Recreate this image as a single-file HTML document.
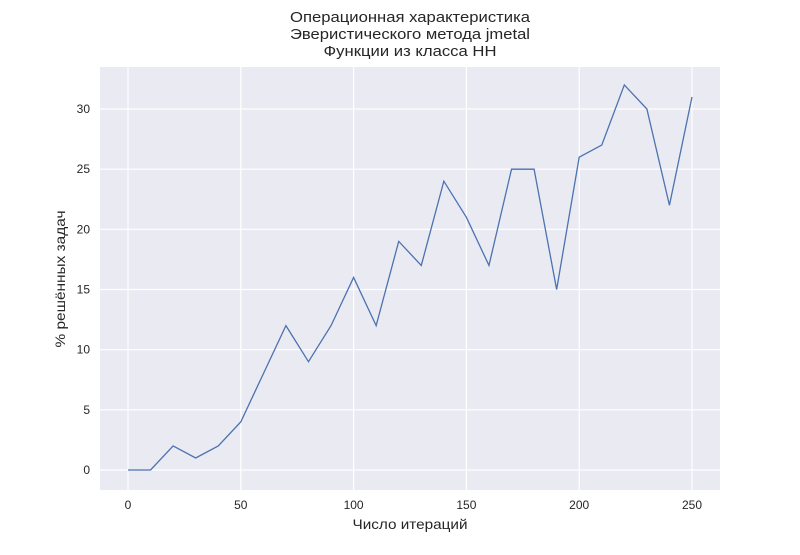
<!DOCTYPE html>
<html><head><meta charset="utf-8"><style>
body{margin:0;background:#fff;}
svg text{font-family:"Liberation Sans","DejaVu Sans",sans-serif;fill:#262626;}
</style></head><body>
<svg id="chart" width="800" height="550">
<rect x="100" y="67" width="620" height="423" fill="#eaeaf2"/>
<g id="grid"></g>
<g id="ticks"></g>
<path id="line" fill="none" stroke="#4c72b0" stroke-width="1.3"/>
<text x="410" y="22" text-anchor="middle" font-size="14.5" textLength="240" lengthAdjust="spacingAndGlyphs">Операционная характеристика</text>
<text x="410" y="39" text-anchor="middle" font-size="14.5" textLength="240" lengthAdjust="spacingAndGlyphs">Эверистического метода jmetal</text>
<text x="410" y="56" text-anchor="middle" font-size="14.5" textLength="173" lengthAdjust="spacingAndGlyphs">Функции из класса НН</text>
<text x="410" y="529" text-anchor="middle" font-size="14" textLength="115" lengthAdjust="spacingAndGlyphs">Число итераций</text>
<text transform="translate(65,279) rotate(-90)" text-anchor="middle" font-size="14" textLength="137" lengthAdjust="spacingAndGlyphs">% решённых задач</text>
</svg>
<script>
const xs=[0,10,20,30,40,50,60,70,80,90,100,110,120,130,140,150,160,170,180,190,200,210,220,230,240,250];
const ys=[0,0,2,1,2,4,8,12,9,12,16,12,19,17,24,21,17,25,25,15,26,27,32,30,22,31];
const xTicks=[0,50,100,150,200,250];
const yTicks=[0,5,10,15,20,25,30];
const X=v=>128+v*(692-128)/250;
const Y=v=>470-v*(470-109)/30;
const ns="http://www.w3.org/2000/svg";
const grid=document.getElementById('grid'),ticks=document.getElementById('ticks');
xTicks.forEach(t=>{
 const l=document.createElementNS(ns,'line');
 l.setAttribute('x1',X(t));l.setAttribute('x2',X(t));l.setAttribute('y1',67);l.setAttribute('y2',490);
 l.setAttribute('stroke','#fff');l.setAttribute('stroke-width','1.2');
 
 
 grid.appendChild(l);
 const tx=document.createElementNS(ns,'text');
 tx.setAttribute('x',X(t));tx.setAttribute('y',509);tx.setAttribute('text-anchor','middle');tx.setAttribute('font-size','12');
 tx.textContent=t;
 
 
 ticks.appendChild(tx);
});
yTicks.forEach(t=>{
 const l=document.createElementNS(ns,'line');
 l.setAttribute('x1',100);l.setAttribute('x2',720);l.setAttribute('y1',Y(t));l.setAttribute('y2',Y(t));
 l.setAttribute('stroke','#fff');l.setAttribute('stroke-width','1.2');
 
 
 grid.appendChild(l);
 const tx=document.createElementNS(ns,'text');
 tx.setAttribute('x',90);tx.setAttribute('y',Y(t)+4);tx.setAttribute('text-anchor','end');tx.setAttribute('font-size','12');
 tx.textContent=t;
 
 
 ticks.appendChild(tx);
});
document.getElementById('line').setAttribute('d',xs.map((x,i)=>(i?'L':'M')+X(x)+','+Y(ys[i])).join(''));
</script>
</body></html>
